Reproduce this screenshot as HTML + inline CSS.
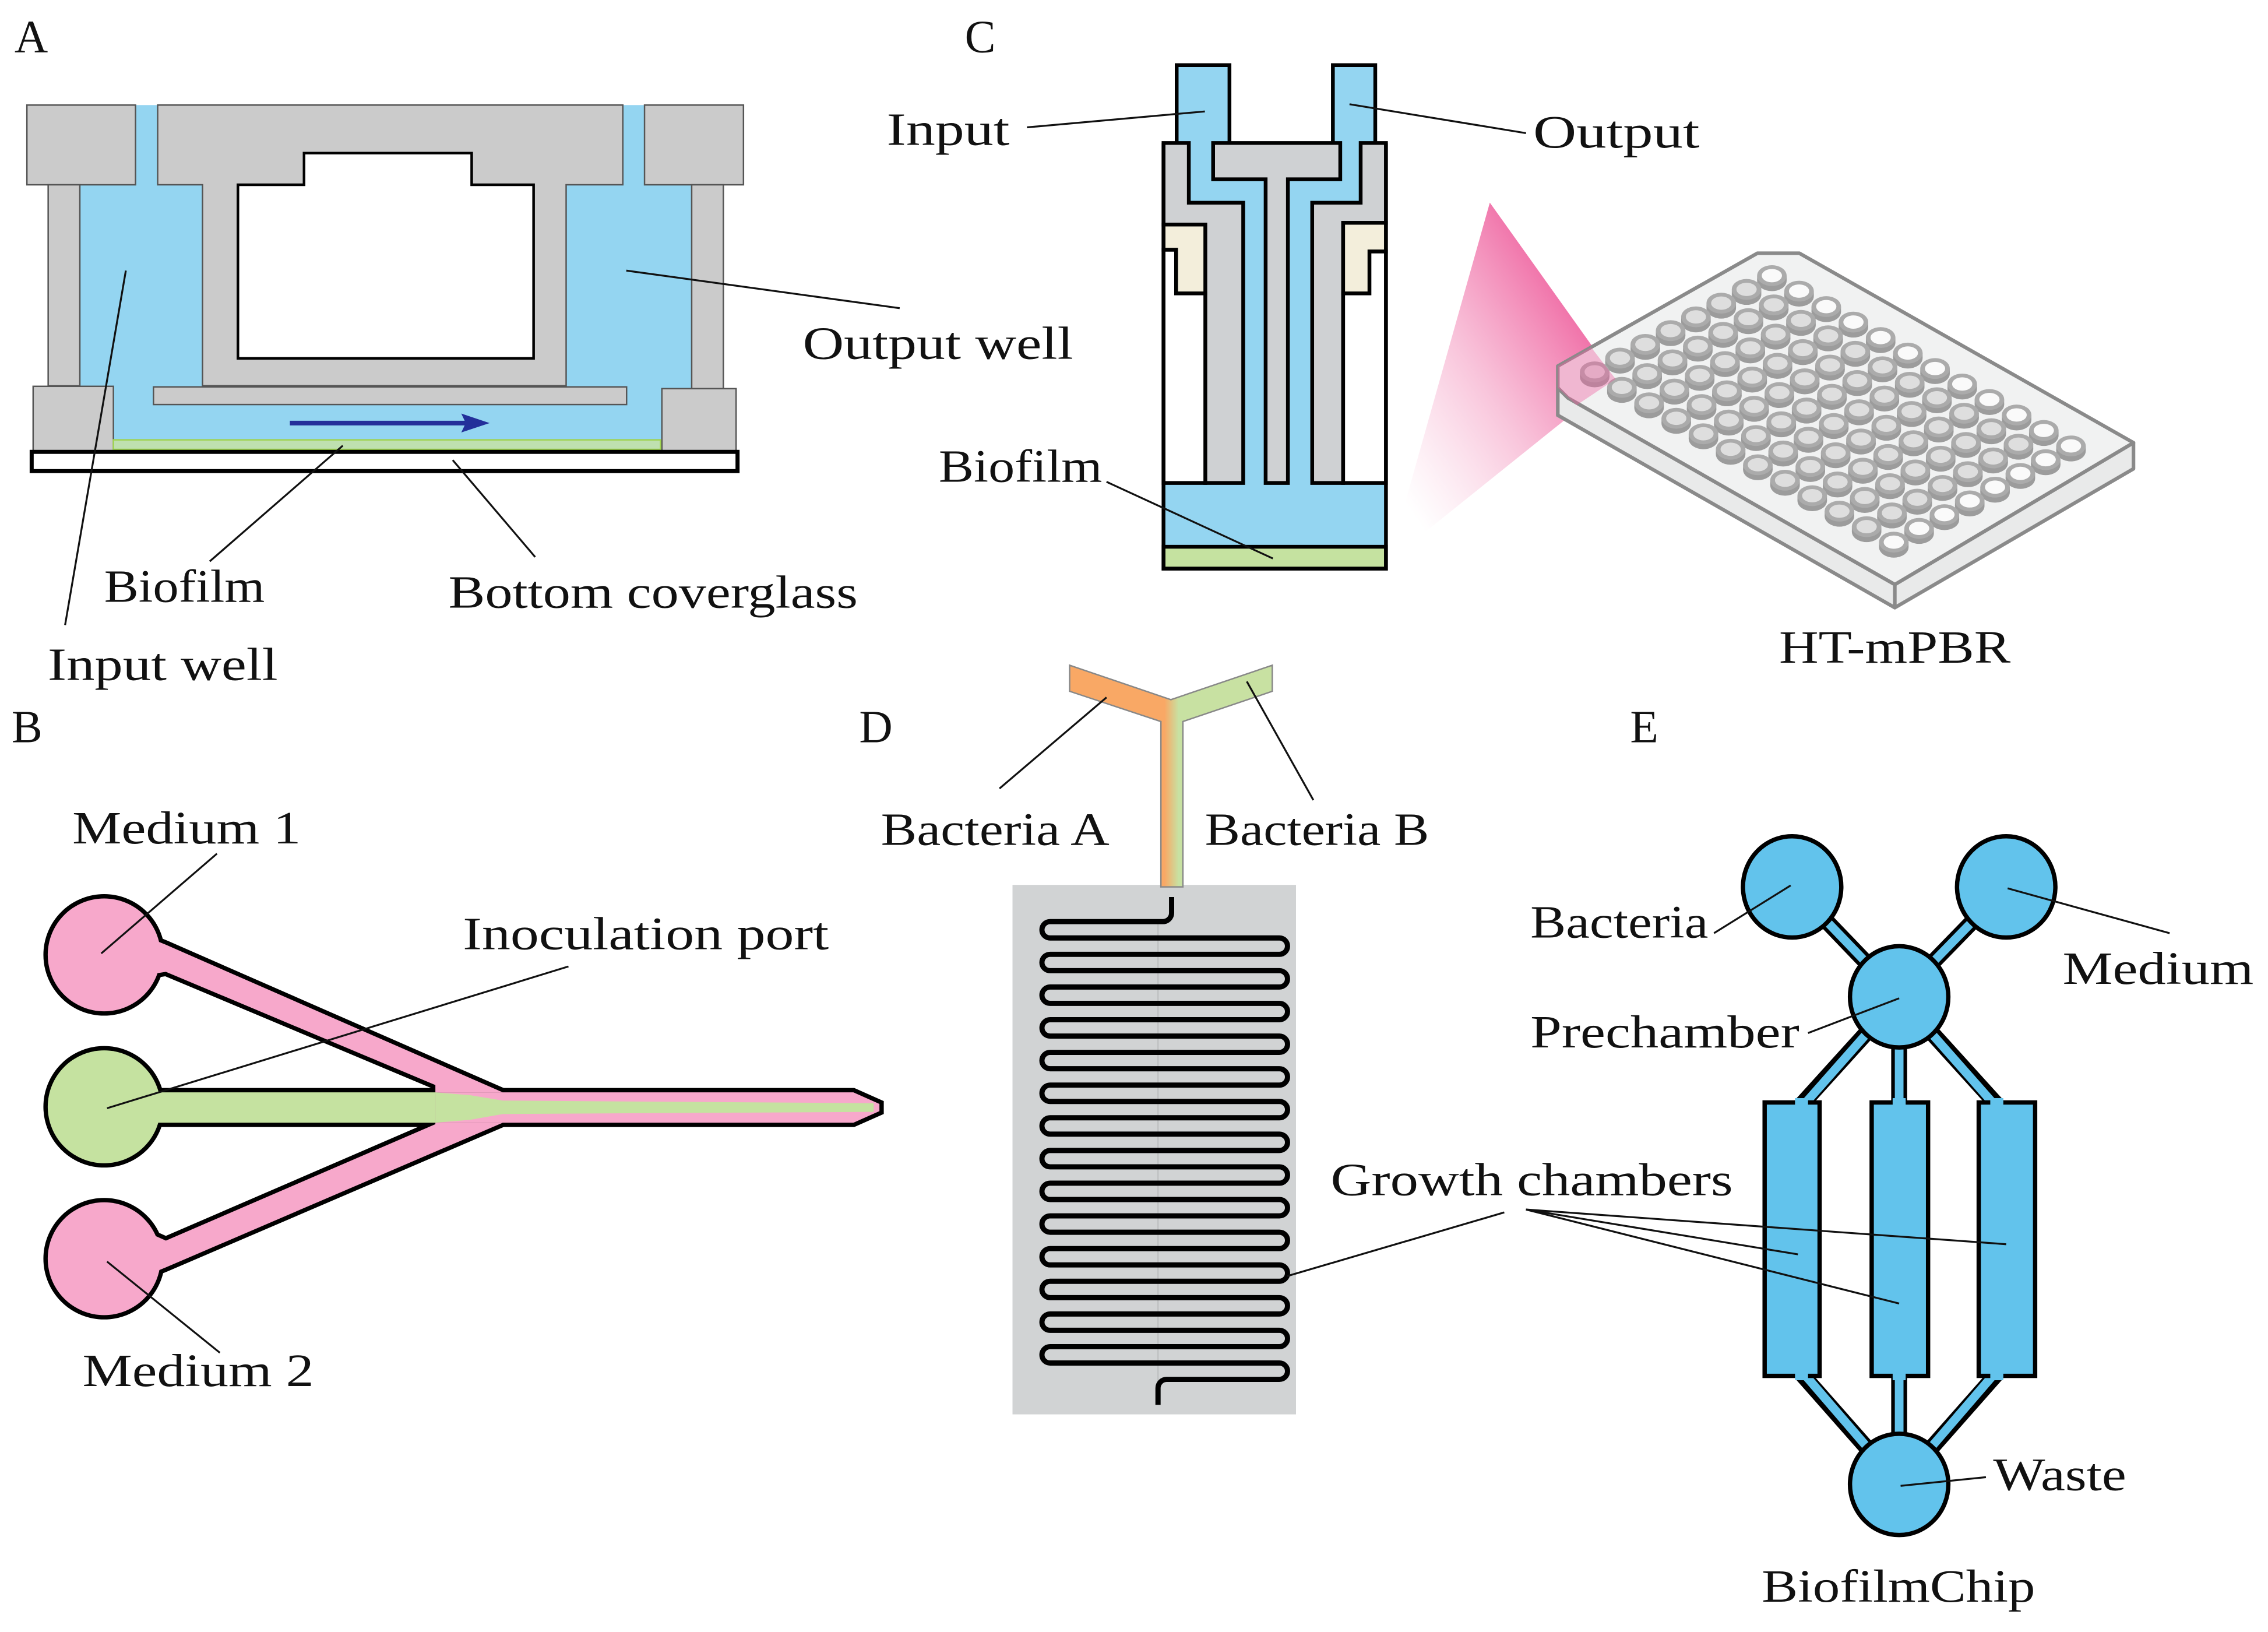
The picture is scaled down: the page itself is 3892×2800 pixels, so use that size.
<!DOCTYPE html>
<html><head><meta charset="utf-8"><style>
html,body{margin:0;padding:0;background:#fff;}
svg{display:block;}
text{font-family:"Liberation Serif",serif;font-size:32px;fill:#111;}
</style></head><body>
<svg width="3892" height="2800" viewBox="0 0 1568 1128" xmlns="http://www.w3.org/2000/svg">
<defs>
<linearGradient id="beam" gradientUnits="userSpaceOnUse" x1="960" y1="330" x2="1110" y2="230">
<stop offset="0" stop-color="#ffffff" stop-opacity="0.6"/>
<stop offset="0.5" stop-color="#f7b6d2" stop-opacity="0.8"/>
<stop offset="1" stop-color="#ee5d9c" stop-opacity="0.95"/>
</linearGradient>
<linearGradient id="yg" gradientUnits="userSpaceOnUse" x1="802" y1="0" x2="818" y2="0">
<stop offset="0.2" stop-color="#f9a865"/>
<stop offset="0.8" stop-color="#c8e1a2"/>
</linearGradient>
</defs>

<!-- ============ PANEL A ============ -->
<g stroke="#555" stroke-width="1">
<rect x="55" y="128" width="423" height="176" fill="#94d5f1" stroke="none"/>
<rect x="93.7" y="72.6" width="15.3" height="56" fill="#94d5f1" stroke="none"/>
<rect x="430.6" y="72.6" width="15" height="56" fill="#94d5f1" stroke="none"/>
<rect x="78" y="278" width="380" height="30" fill="#94d5f1" stroke="none"/>
<rect x="18.6" y="72.6" width="75.1" height="55.1" fill="#cbcbcb"/>
<rect x="445.6" y="72.6" width="68.4" height="55.1" fill="#cbcbcb"/>
<path d="M109,72.6 H430.6 V127.7 H391.4 V266.6 H140 V127.7 H109 Z" fill="#cbcbcb"/>
<path d="M164.5,127.7 H210.2 V105.8 H326.1 V127.7 H368.9 V247.7 H164.5 Z" fill="#fff" stroke="#000" stroke-width="1.8"/>
<rect x="33.3" y="127.7" width="21.9" height="139" fill="#cbcbcb"/>
<rect x="478.2" y="127.7" width="21.9" height="141" fill="#cbcbcb"/>
<rect x="22.9" y="267" width="55.5" height="44.5" fill="#cbcbcb"/>
<rect x="457.6" y="268.6" width="51.3" height="43" fill="#cbcbcb"/>
<rect x="106.1" y="267.4" width="327.1" height="12.2" fill="#cbcbcb"/>
</g>
<rect x="78.4" y="304" width="378.3" height="6.6" fill="#bfe0b0" stroke="#9fd34f" stroke-width="1"/>
<rect x="21.9" y="312.3" width="488" height="13.3" fill="#fff" stroke="#000" stroke-width="2.8"/>
<line x1="200.4" y1="292.4" x2="322" y2="292.4" stroke="#232f9a" stroke-width="3.2"/>
<polygon points="318.9,285.8 338.5,292.4 318.9,298.9 322,292.4" fill="#232f9a"/>
<g stroke="#111" stroke-width="1.3">
<line x1="433" y1="187" x2="622" y2="213"/>
<line x1="145" y1="388" x2="237" y2="308"/>
<line x1="370" y1="385" x2="313" y2="318"/>
<line x1="45" y1="432" x2="87" y2="187"/>
</g>
<text x="10" y="36" font-size="30">A</text>
<text x="555" y="248" textLength="187" lengthAdjust="spacingAndGlyphs">Output well</text>
<text x="72" y="416" textLength="111" lengthAdjust="spacingAndGlyphs">Biofilm</text>
<text x="310" y="420" textLength="283" lengthAdjust="spacingAndGlyphs">Bottom coverglass</text>
<text x="33" y="470" textLength="159" lengthAdjust="spacingAndGlyphs">Input well</text>

<!-- ============ PANEL C ============ -->
<polygon points="1030,140 1117,262 960,388" fill="url(#beam)"/>
<g stroke="#000" stroke-width="2.6" stroke-linejoin="miter">
<rect x="813.5" y="45" width="36.5" height="56" fill="#94d5f1" stroke="none"/>
<rect x="921.5" y="45" width="29.3" height="56" fill="#94d5f1" stroke="none"/>
<path d="M813.5,99 V45 H850 V99" fill="none"/>
<path d="M921.5,99 V45 H950.8 V99" fill="none"/>
<rect x="804.4" y="98.8" width="153.8" height="294.2" fill="#94d5f1" stroke="none"/>
<path d="M804.4,98.8 H821.9 V140.1 H859.5 V333.8 H833.3 V155.2 H804.4 Z" fill="#cfd1d3"/>
<path d="M804.4,155.2 H833.3 V202.8 H813.1 V172.6 H804.4 Z" fill="#f3eedb"/>
<path d="M804.4,172.6 H813.1 V202.8 H833.3 V333.8 H804.4 Z" fill="#fff"/>
<path d="M838.7,98.8 H926.6 V123.9 H890.4 V333.8 H875 V123.9 H838.7 Z" fill="#cfd1d3"/>
<path d="M958.2,98.8 H940.7 V140.1 H907.2 V333.8 H928.6 V154 H958.2 Z" fill="#cfd1d3"/>
<path d="M958.2,154 H928.6 V202.8 H946.8 V173.8 H958.2 Z" fill="#f3eedb"/>
<path d="M958.2,173.8 H946.8 V202.8 H928.6 V333.8 H958.2 Z" fill="#fff"/>
<rect x="804.4" y="377.9" width="153.8" height="15.1" fill="#c5e2a0"/>
<path d="M804.4,98.8 V393 H958.2 V98.8" fill="none"/>
</g>
<g stroke="#111" stroke-width="1.3">
<line x1="710" y1="88" x2="833" y2="77"/>
<line x1="933" y1="72" x2="1055" y2="92"/>
<line x1="765" y1="333" x2="880" y2="386"/>
</g>
<text x="667" y="36" font-size="30">C</text>
<text x="613" y="100" textLength="85" lengthAdjust="spacingAndGlyphs">Input</text>
<text x="1060" y="102" textLength="115" lengthAdjust="spacingAndGlyphs">Output</text>
<text x="649" y="333" textLength="113" lengthAdjust="spacingAndGlyphs">Biofilm</text>

<!-- plate -->
<g stroke="#8a8a8a" stroke-width="2.5" stroke-linejoin="round">
<polygon points="1310,404 1310,420 1077,287 1077,268 1084,275" fill="#e9eaea"/>
<polygon points="1475,306 1475,324 1310,420 1310,404" fill="#e9eaea"/>
<polygon points="1215,175 1244,175 1475,306 1310,404 1084,275 1077,268 1077,253 1100,240" fill="#f1f2f2"/>
</g>
<g id="wellgrid"></g>
<text x="1230" y="458" textLength="160" lengthAdjust="spacingAndGlyphs">HT-mPBR</text>

<!-- ============ PANEL B ============ -->
<g stroke="#000" stroke-width="6" stroke-linejoin="miter">
<circle cx="72" cy="660" r="39"/>
<circle cx="72" cy="765" r="39"/>
<circle cx="72" cy="870" r="39"/>
<polygon points="100,647 114.7,653 347.6,755 301,755 301,750 114.7,671.7 100,674"/>
<polygon points="100,851 114.7,857.5 301,777 301,776 347.6,776 114.7,876 100,882"/>
<polygon points="301,755 590,755 608,763 608,768 590,776 301,776"/>
<polygon points="100,755 301,755 301,776 100,776"/>
</g>
<g stroke="none">
<circle cx="72" cy="660" r="39" fill="#f7a8cb"/>
<circle cx="72" cy="765" r="39" fill="#c5e2a0"/>
<circle cx="72" cy="870" r="39" fill="#f7a8cb"/>
<polygon points="100,647 114.7,653 347.6,755 301,755 301,750 114.7,671.7 100,674" fill="#f7a8cb"/>
<polygon points="100,851 114.7,857.5 301,777 301,776 347.6,776 114.7,876 100,882" fill="#f7a8cb"/>
<polygon points="301,755 590,755 608,763 608,768 590,776 301,776" fill="#f7a8cb"/>
<polygon points="100,755 301,755 301,776 100,776" fill="#c5e2a0"/>
<polygon points="301,755 325,757 347.6,760.7 604,762.5 604,768.5 347.6,770 325,774 301,776" fill="#c5e2a0"/>
</g>
<g stroke="#111" stroke-width="1.3">
<line x1="150" y1="590" x2="70" y2="659"/>
<line x1="393" y1="668" x2="74" y2="766"/>
<line x1="74" y1="872" x2="152" y2="935"/>
</g>
<text x="8" y="513" font-size="30">B</text>
<text x="50" y="583" textLength="158" lengthAdjust="spacingAndGlyphs">Medium 1</text>
<text x="320" y="656" textLength="253" lengthAdjust="spacingAndGlyphs">Inoculation port</text>
<text x="57" y="958" textLength="160" lengthAdjust="spacingAndGlyphs">Medium 2</text>

<!-- ============ PANEL D ============ -->
<rect x="700" y="611.6" width="196" height="366" fill="#d1d3d4"/>
<line x1="800.6" y1="637" x2="800.6" y2="955" stroke="#bfc1c2" stroke-width="1"/>
<polygon points="739.5,459.8 809.5,483.6 879.6,459.8 879.6,477.8 817.8,498.7 817.8,613 802.6,613 802.6,498.7 739.5,477.8" fill="url(#yg)" stroke="#888" stroke-width="1"/>
<path d="M810,620 V631 A6,6 0 0 1 804,637 H726
A5.65,5.65 0 0 0 726,648.3 H884.5
A5.65,5.65 0 0 1 884.5,659.6 H726
A5.65,5.65 0 0 0 726,670.9 H884.5
A5.65,5.65 0 0 1 884.5,682.2 H726
A5.65,5.65 0 0 0 726,693.5 H884.5
A5.65,5.65 0 0 1 884.5,704.8 H726
A5.65,5.65 0 0 0 726,716.1 H884.5
A5.65,5.65 0 0 1 884.5,727.4 H726
A5.65,5.65 0 0 0 726,738.7 H884.5
A5.65,5.65 0 0 1 884.5,750 H726
A5.65,5.65 0 0 0 726,761.3 H884.5
A5.65,5.65 0 0 1 884.5,772.6 H726
A5.65,5.65 0 0 0 726,783.9 H884.5
A5.65,5.65 0 0 1 884.5,795.2 H726
A5.65,5.65 0 0 0 726,806.5 H884.5
A5.65,5.65 0 0 1 884.5,817.8 H726
A5.65,5.65 0 0 0 726,829.1 H884.5
A5.65,5.65 0 0 1 884.5,840.4 H726
A5.65,5.65 0 0 0 726,851.7 H884.5
A5.65,5.65 0 0 1 884.5,863 H726
A5.65,5.65 0 0 0 726,874.3 H884.5
A5.65,5.65 0 0 1 884.5,885.6 H726
A5.65,5.65 0 0 0 726,896.9 H884.5
A5.65,5.65 0 0 1 884.5,908.2 H726
A5.65,5.65 0 0 0 726,919.5 H884.5
A5.65,5.65 0 0 1 884.5,930.8 H726
A5.65,5.65 0 0 0 726,942.1 H884.5
A5.65,5.65 0 0 1 884.5,953.4 H806.6 A6,6 0 0 0 800.6,959.4 V971" fill="none" stroke="#000" stroke-width="3.6"/>
<g stroke="#111" stroke-width="1.3">
<line x1="691" y1="545" x2="765" y2="482"/>
<line x1="908" y1="553" x2="862" y2="471"/>
<line x1="1040" y1="838" x2="890" y2="882"/>
</g>
<text x="594" y="513" font-size="30">D</text>
<text x="609" y="584" textLength="158" lengthAdjust="spacingAndGlyphs">Bacteria A</text>
<text x="833" y="584" textLength="155" lengthAdjust="spacingAndGlyphs">Bacteria B</text>

<!-- ============ PANEL E ============ -->
<g stroke-linecap="butt">
<g stroke="#000" stroke-width="11">
<line x1="1240" y1="613" x2="1313" y2="689"/>
<line x1="1387" y1="613" x2="1313" y2="689"/>
<line x1="1313" y1="689" x2="1245" y2="764"/>
<line x1="1313" y1="689" x2="1313" y2="764"/>
<line x1="1313" y1="689" x2="1381" y2="764"/>
<line x1="1245" y1="949" x2="1313" y2="1026"/>
<line x1="1313" y1="949" x2="1313" y2="1026"/>
<line x1="1381" y1="949" x2="1313" y2="1026"/>
</g>
<g stroke="#62c3ec" stroke-width="6">
<line x1="1240" y1="613" x2="1313" y2="689"/>
<line x1="1387" y1="613" x2="1313" y2="689"/>
<line x1="1313" y1="689" x2="1245" y2="766"/>
<line x1="1313" y1="689" x2="1313" y2="766"/>
<line x1="1313" y1="689" x2="1381" y2="766"/>
<line x1="1245" y1="947" x2="1313" y2="1026"/>
<line x1="1313" y1="947" x2="1313" y2="1026"/>
<line x1="1381" y1="947" x2="1313" y2="1026"/>
</g>
</g>
<g stroke="#000" stroke-width="3" fill="#62c3ec">
<ellipse cx="1239" cy="613" rx="34" ry="35"/>
<ellipse cx="1387" cy="613" rx="34" ry="35"/>
<ellipse cx="1313" cy="689" rx="34" ry="35"/>
<ellipse cx="1313" cy="1026" rx="34" ry="35"/>
<rect x="1220" y="762" width="38" height="189"/>
<rect x="1294" y="762" width="39" height="189"/>
<rect x="1368" y="762" width="39" height="189"/>
</g>
<rect x="1241" y="759" width="9" height="6" fill="#62c3ec"/>
<rect x="1308.5" y="759" width="9" height="6" fill="#62c3ec"/>
<rect x="1376" y="759" width="9" height="6" fill="#62c3ec"/>
<rect x="1241" y="948" width="9" height="6" fill="#62c3ec"/>
<rect x="1308.5" y="948" width="9" height="6" fill="#62c3ec"/>
<rect x="1376" y="948" width="9" height="6" fill="#62c3ec"/>
<g stroke="#111" stroke-width="1.3">
<line x1="1185" y1="645" x2="1238" y2="612"/>
<line x1="1388" y1="614" x2="1500" y2="645"/>
<line x1="1250" y1="714" x2="1313" y2="690"/>
<line x1="1314" y1="1027" x2="1373" y2="1021"/>
<line x1="1055" y1="836" x2="1243" y2="867"/>
<line x1="1055" y1="836" x2="1313" y2="901"/>
<line x1="1055" y1="836" x2="1387" y2="860"/>
</g>
<text x="1127" y="513" font-size="30">E</text>
<text x="920" y="826" textLength="278" lengthAdjust="spacingAndGlyphs">Growth chambers</text>
<text x="1058" y="648" textLength="123" lengthAdjust="spacingAndGlyphs">Bacteria</text>
<text x="1426" y="680" textLength="132" lengthAdjust="spacingAndGlyphs">Medium</text>
<text x="1058" y="724" textLength="186" lengthAdjust="spacingAndGlyphs">Prechamber</text>
<text x="1378" y="1030" textLength="92" lengthAdjust="spacingAndGlyphs">Waste</text>
<text x="1218" y="1107" textLength="189" lengthAdjust="spacingAndGlyphs">BiofilmChip</text>

<script>
(function(){
var ns="http://www.w3.org/2000/svg",g=document.getElementById("wellgrid");
function el(n,a){var e=document.createElementNS(ns,n);for(var k in a)e.setAttribute(k,a[k]);g.appendChild(e);}
for(var i=0;i<8;i++)for(var j=0;j<12;j++){
var cx=1225-17.5*i+18.8*j, cy=190.5+9.5*i+10.7*j;
el("ellipse",{cx:cx,cy:cy+3.5,rx:10.2,ry:7.2,fill:"#9c9c9c"});
el("rect",{x:cx-10.2,y:cy,width:20.4,height:3.5,fill:"#9c9c9c"});
el("ellipse",{cx:cx,cy:cy,rx:10.2,ry:7.2,fill:"#ababab"});
el("ellipse",{cx:cx,cy:cy,rx:7,ry:4.6,fill:(i==0||j==11)?"#fafafa":"#dedede"});
}
})();
</script>
<polygon points="1077,253 1100,240 1117,262 1090,280 1077,268" fill="#f0609f" opacity="0.4"/>
</svg>
</body></html>
